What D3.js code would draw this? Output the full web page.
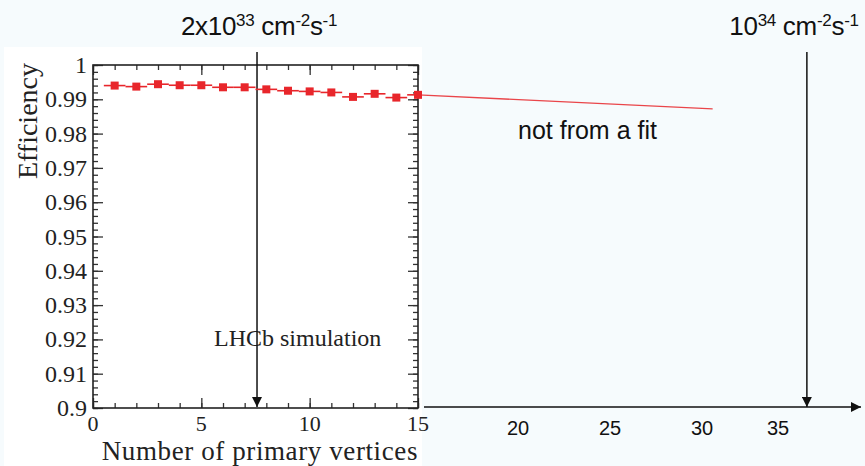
<!DOCTYPE html>
<html>
<head>
<meta charset="utf-8">
<script src="https://cdn.jsdelivr.net/npm/d3@7"></script>
<style>
  html, body { margin: 0; padding: 0; background: #f6fbfd; }
  svg { display: block; }
</style>
</head>
<body>
<div id="chart"></div>
<script>
// efficiency vs number of primary vertices
const nPV = [1, 2, 3, 4, 5, 6, 7, 8, 9, 10, 11, 12, 13, 14, 15];
const eff = [0.9940, 0.9937, 0.9944, 0.9941, 0.9941, 0.9935, 0.9935, 0.9929, 0.9925, 0.9923, 0.9920, 0.9907, 0.9916, 0.9905, 0.9913];
const effErr = [0.0010, 0.0004, 0.0004, 0.0004, 0.0004, 0.0004, 0.0004, 0.0004, 0.0004, 0.0004, 0.0004, 0.0005, 0.0005, 0.0008, 0.0009];

// hand-drawn extrapolation ("not from a fit")
const extraLineX = [15, 30.7];
const extraLineY = [0.9913, 0.9872];

const yTicks = [0.9, 0.91, 0.92, 0.93, 0.94, 0.95, 0.96, 0.97, 0.98, 0.99, 1];
const xTicks = [0, 5, 10, 15];
const extTicks = [20, 25, 30, 35];
const extTickPos = [15, 20, 25, 30, 35];

// luminosity markers
const lumiPV = [7.57, 36.9];

const width = 865, height = 466;
const frame = {left: 93, right: 418, top: 65, bottom: 408};
const red = "#e8262b";
const serif = "'Liberation Serif', 'Times New Roman', serif";
const sans = "'Liberation Sans', Arial, Helvetica, sans-serif";

const svg = d3.select("#chart").append("svg")
  .attr("width", width)
  .attr("height", height);

svg.append("rect").attr("width", width).attr("height", height).attr("fill", "#f6fbfd");
// pasted plot panel
svg.append("rect").attr("x", 4).attr("y", 47).attr("width", 418).attr("height", height - 47).attr("fill", "#ffffff");

const x = d3.scaleLinear().domain([0, 15]).range([frame.left, frame.right]);
const y = d3.scaleLinear().domain([0.9, 1]).range([frame.bottom, frame.top]);
// the extension of the axis is drawn by hand, so its spacing is uneven
const xExt = d3.scaleLinear().domain(extTickPos).range([418, 518, 610, 702, 778]);
const xAll = v => v <= 15 ? x(v) : xExt(v);

// ---- frame and axes (ROOT style, ticks on all four sides)
const minorY = d3.range(0.9, 1.0001, 0.002);
const minorX = d3.range(0, 15.001, 1);

svg.append("g")
  .attr("transform", `translate(${frame.left},0)`)
  .call(d3.axisRight(y).tickValues(yTicks).tickSize(10).tickFormat(""))
  .call(g => g.select(".domain").remove());
svg.append("g")
  .attr("transform", `translate(${frame.left},0)`)
  .call(d3.axisRight(y).tickValues(minorY).tickSize(5).tickFormat(""))
  .call(g => g.select(".domain").remove());
svg.append("g")
  .attr("transform", `translate(${frame.right},0)`)
  .call(d3.axisLeft(y).tickValues(yTicks).tickSize(10).tickFormat(""))
  .call(g => g.select(".domain").remove());
svg.append("g")
  .attr("transform", `translate(${frame.right},0)`)
  .call(d3.axisLeft(y).tickValues(minorY).tickSize(5).tickFormat(""))
  .call(g => g.select(".domain").remove());

svg.append("g")
  .attr("transform", `translate(0,${frame.bottom})`)
  .call(d3.axisTop(x).tickValues(xTicks).tickSize(10).tickFormat(""))
  .call(g => g.select(".domain").remove());
svg.append("g")
  .attr("transform", `translate(0,${frame.bottom})`)
  .call(d3.axisTop(x).tickValues(minorX).tickSize(5).tickFormat(""))
  .call(g => g.select(".domain").remove());
svg.append("g")
  .attr("transform", `translate(0,${frame.top})`)
  .call(d3.axisBottom(x).tickValues(xTicks).tickSize(10).tickFormat(""))
  .call(g => g.select(".domain").remove());
svg.append("g")
  .attr("transform", `translate(0,${frame.top})`)
  .call(d3.axisBottom(x).tickValues(minorX).tickSize(5).tickFormat(""))
  .call(g => g.select(".domain").remove());

svg.selectAll(".tick line").attr("stroke", "#333").attr("stroke-width", 1.3);

svg.append("rect")
  .attr("x", frame.left).attr("y", frame.top)
  .attr("width", frame.right - frame.left).attr("height", frame.bottom - frame.top)
  .attr("fill", "none").attr("stroke", "#222").attr("stroke-width", 1.6);

// tick labels
svg.append("g").selectAll("text").data(yTicks).join("text")
  .attr("x", frame.left - 6)
  .attr("y", d => y(d) + 8)
  .attr("text-anchor", "end")
  .attr("font-family", serif).attr("font-size", 24).attr("fill", "#222")
  .text(d => d === 1 ? "1" : d3.format(".2f")(d).replace(/0$/, ""));

svg.append("g").selectAll("text").data(xTicks).join("text")
  .attr("x", d => x(d))
  .attr("y", frame.bottom + 23)
  .attr("text-anchor", "middle")
  .attr("font-family", serif).attr("font-size", 22).attr("fill", "#222")
  .text(d => d);

svg.append("text")
  .attr("transform", `translate(37,${frame.top - 2}) rotate(-90)`)
  .attr("text-anchor", "end")
  .attr("font-family", serif).attr("font-size", 28).attr("fill", "#222")
  .text("Efficiency");

svg.append("text")
  .attr("x", frame.right).attr("y", 460)
  .attr("text-anchor", "end")
  .attr("font-family", serif).attr("font-size", 27).attr("fill", "#222")
  .attr("letter-spacing", 0.6)
  .text("Number of primary vertices");

svg.append("text")
  .attr("x", 214).attr("y", 346)
  .attr("font-family", serif).attr("font-size", 24).attr("fill", "#222")
  .text("LHCb simulation");

// ---- extended x axis with arrow
const defs = svg.append("defs");
defs.append("marker")
  .attr("id", "head")
  .attr("viewBox", "0 0 10 10")
  .attr("refX", 10).attr("refY", 5)
  .attr("markerWidth", 11).attr("markerHeight", 10)
  .attr("markerUnits", "userSpaceOnUse")
  .attr("orient", "auto")
  .append("path").attr("d", "M0,0 L10,5 L0,10 Z").attr("fill", "#111");

svg.append("line")
  .attr("x1", xExt(15) + 6).attr("x2", 861)
  .attr("y1", frame.bottom - 1).attr("y2", frame.bottom - 1)
  .attr("stroke", "#111").attr("stroke-width", 1.5)
  .attr("marker-end", "url(#head)");

svg.append("g").selectAll("text").data(extTicks).join("text")
  .attr("x", d => xExt(d))
  .attr("y", frame.bottom + 27)
  .attr("text-anchor", "middle")
  .attr("font-family", sans).attr("font-size", 20).attr("fill", "#111")
  .text(d => d);

// ---- luminosity arrows
svg.append("g").selectAll("line").data(lumiPV).join("line")
  .attr("x1", d => xAll(d)).attr("x2", d => xAll(d))
  .attr("y1", 52).attr("y2", frame.bottom - 1)
  .attr("stroke", "#111").attr("stroke-width", 1.5)
  .attr("marker-end", "url(#head)");

function lumiLabel(cx, parts) {
  const t = svg.append("text")
    .attr("x", cx).attr("y", 35)
    .attr("text-anchor", "middle")
    .attr("font-family", sans).attr("font-size", 26).attr("fill", "#111")
    .attr("letter-spacing", -0.3);
  parts.forEach(p => {
    const s = t.append("tspan").text(p[0]);
    if (p[1]) s.attr("font-size", 17).attr("baseline-shift", "9");
  });
}
lumiLabel(xAll(lumiPV[0]) + 2, [["2x10"], ["33", true], [" cm"], ["-2", true], ["s"], ["-1", true]]);
lumiLabel(794, [["10"], ["34", true], [" cm"], ["-2", true], ["s"], ["-1", true]]);

// ---- extrapolation line
svg.append("line")
  .attr("x1", xAll(extraLineX[0])).attr("y1", y(extraLineY[0]))
  .attr("x2", xAll(extraLineX[1])).attr("y2", y(extraLineY[1]))
  .attr("stroke", red).attr("stroke-width", 1.4).attr("opacity", 0.85);

svg.append("text")
  .attr("x", 518).attr("y", 139)
  .attr("font-family", sans).attr("font-size", 25).attr("fill", "#111")
  .text("not from a fit");

// ---- data points with error bars
const pts = nPV.map((v, i) => ({x: v, y: eff[i], e: effErr[i]}));
const g = svg.append("g");
g.selectAll("line.h").data(pts).join("line").attr("class", "h")
  .attr("x1", d => x(d.x - 0.5)).attr("x2", d => x(Math.min(d.x + 0.5, 15)))
  .attr("y1", d => y(d.y)).attr("y2", d => y(d.y))
  .attr("stroke", red).attr("stroke-width", 1.6);
g.selectAll("line.v").data(pts).join("line").attr("class", "v")
  .attr("x1", d => x(d.x)).attr("x2", d => x(d.x))
  .attr("y1", d => y(d.y - d.e)).attr("y2", d => y(d.y + d.e))
  .attr("stroke", red).attr("stroke-width", 1.6);
g.selectAll("rect").data(pts).join("rect")
  .attr("x", d => x(d.x) - 4).attr("y", d => y(d.y) - 4)
  .attr("width", 8).attr("height", 8)
  .attr("fill", red);
</script>
</body>
</html>
